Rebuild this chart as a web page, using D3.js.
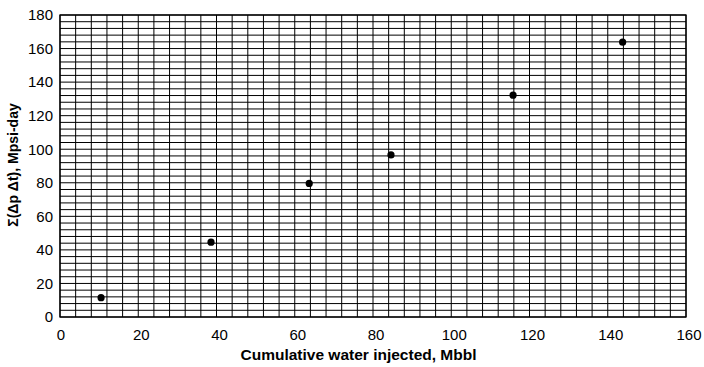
<!DOCTYPE html>
<html><head><meta charset="utf-8">
<script src="https://cdn.jsdelivr.net/npm/d3@7"></script>
<style>body{margin:0;background:#fff}svg{display:block}text{font-family:"Liberation Sans",Arial,sans-serif}</style>
</head><body><svg id="c" width="704" height="367"></svg>
<script>
const waterInjected = [10.5, 38.6, 63.7, 84.6, 115.8, 143.8];
const sumDpDt = [11.5, 44.6, 79.6, 96.6, 132.2, 163.8];
const xTicks = [0,20,40,60,80,100,120,140,160];
const yTicks = [0,20,40,60,80,100,120,140,160,180];
const xTitle = "Cumulative water injected, Mbbl";
const yTitle = "Σ(Δp Δt), Mpsi-day";

const svg = d3.select("#c");
const L=60, R=686, T=15, B=317;
const x = d3.scaleLinear().domain([0,160]).range([L,R]);
const y = d3.scaleLinear().domain([0,180]).range([B,T]);

const g = svg.append("g");
g.selectAll("line.v").data(d3.range(0,161,4)).join("line")
  .attr("x1",d=>x(d)).attr("x2",d=>x(d)).attr("y1",T).attr("y2",B)
  .attr("stroke","#000").attr("stroke-width",1);
g.selectAll("line.h").data(d3.range(0,181,4)).join("line")
  .attr("y1",d=>y(d)).attr("y2",d=>y(d)).attr("x1",L).attr("x2",R)
  .attr("stroke","#000").attr("stroke-width",1);
g.append("rect").attr("x",L).attr("y",T).attr("width",R-L).attr("height",B-T)
  .attr("fill","none").attr("stroke","#000").attr("stroke-width",1.3);

const xa = svg.append("g").attr("transform",`translate(0,${B})`)
  .call(d3.axisBottom(x).tickValues(xTicks).tickSize(0).tickPadding(12));
xa.select(".domain").remove();
xa.selectAll("text").attr("font-size",15).attr("fill","#000").attr("dx",d=>d>0?2.5:0.5)
  .style("font-family","Liberation Sans, Arial, sans-serif");
const ya = svg.append("g").attr("transform",`translate(${L},0)`)
  .call(d3.axisLeft(y).tickValues(yTicks).tickSize(0).tickPadding(7));
ya.select(".domain").remove();
ya.selectAll("text").attr("font-size",15).attr("fill","#000").style("font-family","Liberation Sans, Arial, sans-serif");

svg.selectAll("circle").data(waterInjected).join("circle")
  .attr("cx",d=>x(d)).attr("cy",(d,i)=>y(sumDpDt[i])).attr("r",3.6).attr("fill","#000");

svg.append("text").attr("x",358.5).attr("y",360).attr("text-anchor","middle")
  .attr("font-size",15.5).attr("font-weight","bold").text(xTitle);
svg.append("text").attr("transform","translate(17.5,165) rotate(-90)").attr("text-anchor","middle")
  .attr("font-size",14).attr("font-weight","bold").text(yTitle);
</script></body></html>
